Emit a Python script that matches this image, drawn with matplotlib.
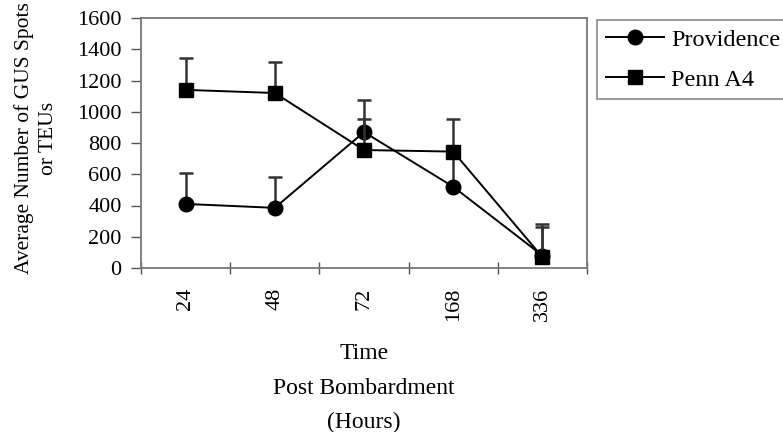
import numpy as np
import matplotlib.pyplot as plt

plt.rcParams['font.family'] = ['Liberation Serif', 'DejaVu Serif']

# data
hours = ['24', '48', '72', '168', '336']
providence = [410, 385, 870, 520, 80]
providence_err = [200, 195, 205, 200, 180]
penn_a4 = [1140, 1120, 755, 745, 70]
penn_a4_err = [205, 200, 200, 210, 210]

x = np.arange(len(hours))

fig = plt.figure(figsize=(7.83, 4.32), dpi=100)
ax = fig.add_axes([141/783, 1 - 268/432, (587 - 141)/783, (268 - 18)/432])

for vals, err, mk, lab in [(providence, providence_err, 'o', 'Providence'),
                           (penn_a4, penn_a4_err, 's', 'Penn A4')]:
    ax.errorbar(x, vals, yerr=[np.zeros(len(err)), err], fmt='none',
                ecolor='#333333', elinewidth=1.8, capsize=4.8, capthick=1.8)
    ax.plot(x, vals, color='black', marker=mk, markersize=10.5, linewidth=1.4,
            label=lab)

ax.set_xlim(-0.5, len(hours) - 0.5)
ax.set_ylim(0, 1600)
ax.set_yticks(range(0, 1601, 200))
ax.set_xticks(x)
ax.set_xticklabels(hours, rotation=90, fontsize=16)
ax.set_xticks(np.arange(-0.5, len(hours)), minor=True)
ax.tick_params(axis='x', which='major', length=0, pad=14)
ax.tick_params(axis='x', which='minor', direction='inout', length=8,
               width=1, color='#555555')
ax.tick_params(axis='y', direction='out', length=7, width=1,
               color='#555555', labelsize=16, pad=7)

for s in ax.spines.values():
    s.set_color('#777777')
    s.set_linewidth(1.3)

ax.set_xlabel('Time\nPost Bombardment\n(Hours)', fontsize=17, linespacing=1.85,
              labelpad=16)
ax.set_ylabel('Average Number of GUS Spots\nor TEUs', fontsize=15.5,
              linespacing=1.3, labelpad=14)
ax.yaxis.label.set_y(0.52)

leg = fig.legend(loc='upper left', bbox_to_anchor=(597/783, 1 - 20/432),
                 borderaxespad=0, fontsize=17.5, frameon=True, fancybox=False,
                 handlelength=2.4, handletextpad=0.3, labelspacing=0.75,
                 borderpad=0.35)
leg.get_frame().set_edgecolor('#777777')
leg.get_frame().set_linewidth(1.3)

fig.savefig('out.png', dpi=100)
